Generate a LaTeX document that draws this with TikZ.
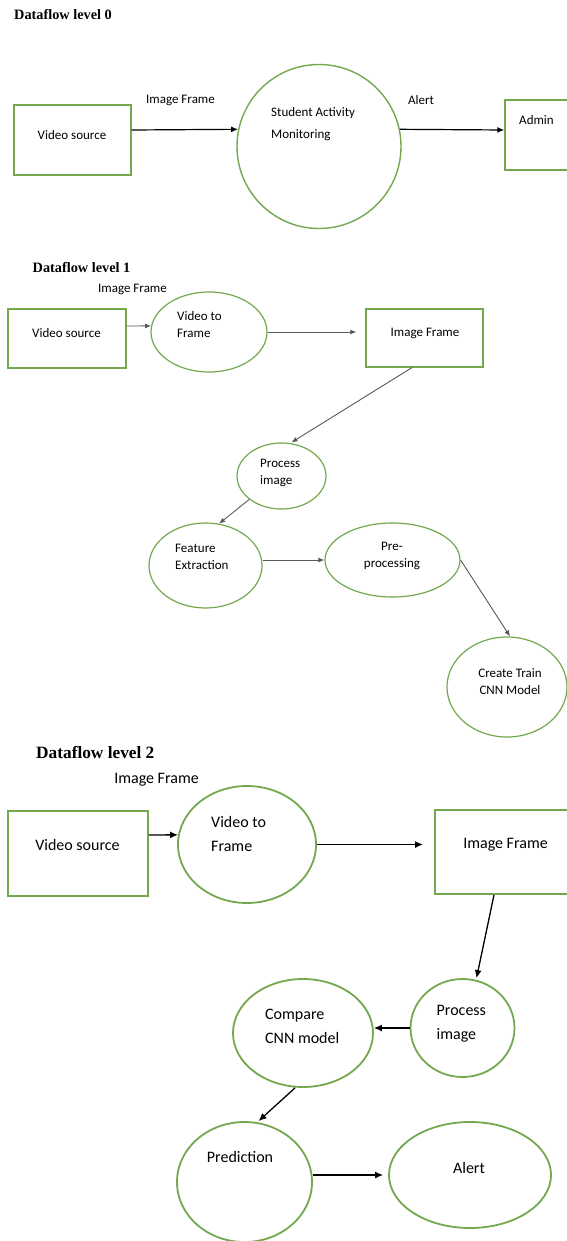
\documentclass[tikz,border=0pt]{standalone}
\usepackage{fontspec}
\setmainfont{Carlito}
\newfontfamily\headfont{Liberation Serif}
\usetikzlibrary{arrows.meta,positioning,shapes.geometric}
\definecolor{FlowGreen}{RGB}{116,168,78}

\begin{document}
\begin{tikzpicture}[
  x=1pt,
  y=-1pt,
  box/.style={
    rectangle,
    draw=FlowGreen,
    line width=1.4pt,
    inner sep=0pt
  },
  proc/.style={
    ellipse,
    draw=FlowGreen,
    line width=1.4pt,
    inner sep=0pt
  },
  txt/.style={
    inner sep=0pt,
    align=left,
    font=\fontsize{13}{17}\selectfont
  },
  txtbig/.style={
    inner sep=0pt,
    align=left,
    font=\fontsize{16}{24}\selectfont
  },
  head/.style={
    inner sep=0pt,
    anchor=west,
    font=\headfont\bfseries\fontsize{14.3}{17}\selectfont
  },
  arrow/.style={-{Latex[length=7pt,width=6pt]}, line width=1.2pt},
  greyarrow/.style={-{Latex[length=6pt,width=5pt]}, line width=0.9pt, black!65},
  bigarrow/.style={-{Latex[length=8pt,width=7pt]}, line width=1.3pt}
]
\useasboundingbox (0,0) rectangle (567,1241);
\clip (0,0) rectangle (567,1241);
\fill[white] (0,0) rectangle (567,1241);

% Level 0: context diagram
\node[head] (title0) at (14,15) {Dataflow level 0};
\node[box, minimum width=117pt, minimum height=70pt] (src0) at (72.5,140) {};
\node[txt] (src0t) at (72,135) {Video source};
\node[proc, minimum width=164pt, minimum height=164pt] (sam0) at (319,146.5) {};
\node[txt, anchor=west, font=\fontsize{13}{22}\selectfont] (sam0t) at (271,124) {Student Activity\\Monitoring};
\node[box, minimum width=75pt, minimum height=70pt] (adm0) at (542.5,135) {};
\node[txt] (adm0t) at (536.5,120) {Admin};
\node[txt] (frm0) at (180.5,100) {Image Frame};
\node[txt] (alt0) at (421,100) {Alert};

\draw[arrow] ([yshift=10pt]src0.east) -- (sam0.168);
\draw[arrow] (sam0.12) -- ([yshift=5pt]adm0.west);

% Level 1: training flow
\node[head] (title1) at (32.5,268) {Dataflow level 1};
\node[txt] (frm1) at (132.5,289) {Image Frame};
\node[box, line width=1.2pt, minimum width=118pt, minimum height=59pt] (src1) at (67,338.5) {};
\node[txt] (src1t) at (66.5,333) {Video source};
\node[proc, line width=1.2pt, minimum width=116pt, minimum height=80pt] (vtf1) at (209,332) {};
\node[txt, anchor=west] (vtf1t) at (177,325) {Video to\\Frame};
\node[box, line width=1.2pt, minimum width=117pt, minimum height=58pt] (img1) at (424.5,338) {};
\node[txt] (img1t) at (425,333) {Image Frame};
\node[proc, line width=1.2pt, minimum width=89pt, minimum height=66pt] (prc1) at (281.5,476) {};
\node[txt, anchor=west] (prc1t) at (260,472.5) {Process\\image};
\node[proc, line width=1.2pt, minimum width=113pt, minimum height=85pt] (fex1) at (205.5,565.5) {};
\node[txt, anchor=west] (fex1t) at (175,556.5) {Feature\\Extraction};
\node[proc, line width=1.2pt, minimum width=135pt, minimum height=74pt] (pre1) at (392.5,560) {};
\node[txt, align=center] (pre1t) at (392,555.5) {Pre-\\processing};
\node[proc, line width=1.2pt, minimum width=120pt, minimum height=100pt] (ctm1) at (507,687) {};
\node[txt, align=center] (ctm1t) at (510,682) {Create Train\\CNN Model};

\draw[greyarrow] ([yshift=12.5pt]src1.east) -- (vtf1.174);
\draw[greyarrow, shorten >=9pt] (vtf1.east) -- (img1.west |- vtf1.east);
\draw[greyarrow] ([xshift=-12.5pt]img1.south) -- ([xshift=10pt]prc1.north);
\draw[greyarrow] (prc1.216) -- (fex1.72);
\draw[greyarrow] (pre1.west -| fex1.east) -- (pre1.west);
\draw[greyarrow] (pre1.east) -- ([xshift=3pt]ctm1.north);

% Level 2: prediction flow
\node[head, font=\headfont\bfseries\fontsize{17.3}{20}\selectfont] (title2) at (36,752) {Dataflow level 2};
\node[txtbig] (frm2) at (156.5,780) {Image Frame};
\node[box, line width=1.8pt, minimum width=140pt, minimum height=85pt] (src2) at (78,853.5) {};
\node[txtbig] (src2t) at (77.5,845) {Video source};
\node[proc, line width=1.8pt, minimum width=138pt, minimum height=117pt] (vtf2) at (247,844.5) {};
\node[txtbig, anchor=west] (vtf2t) at (211,834) {Video to\\Frame};
\node[box, line width=1.8pt, minimum width=145pt, minimum height=84pt] (img2) at (507.5,852) {};
\node[txtbig] (img2t) at (505.5,845) {Image Frame};
\node[proc, line width=1.8pt, minimum width=104pt, minimum height=98pt] (prc2) at (462.5,1028) {};
\node[txtbig, anchor=west] (prc2t) at (436.5,1023.5) {Process\\image};
\node[proc, line width=1.8pt, minimum width=140pt, minimum height=108pt] (cmp2) at (303,1033) {};
\node[txtbig, anchor=west] (cmp2t) at (265,1026) {Compare\\CNN model};
\node[proc, line width=1.8pt, minimum width=135pt, minimum height=120pt] (prd2) at (244.5,1182) {};
\node[txtbig] (prd2t) at (240,1157) {Prediction};
\node[proc, line width=1.8pt, minimum width=162pt, minimum height=106pt] (alt2) at (470,1175) {};
\node[txtbig] (alt2t) at (469,1168) {Alert};

\draw[bigarrow] ([yshift=18.5pt]src2.east) -- (vtf2.172);
\draw[bigarrow, shorten >=11pt] (vtf2.east) -- (img2.west |- vtf2.east);
\draw[bigarrow] ([xshift=-13.5pt]img2.south) -- ([xshift=14pt]prc2.north);
\draw[bigarrow] (prc2.west) -- (prc2.west -| cmp2.east);
\draw[bigarrow] ([xshift=-8pt]cmp2.south) -- ([xshift=14pt]prd2.north);
\draw[bigarrow, shorten >=5pt] (prd2.east |- alt2.west) -- (alt2.west);
\end{tikzpicture}
\end{document}
